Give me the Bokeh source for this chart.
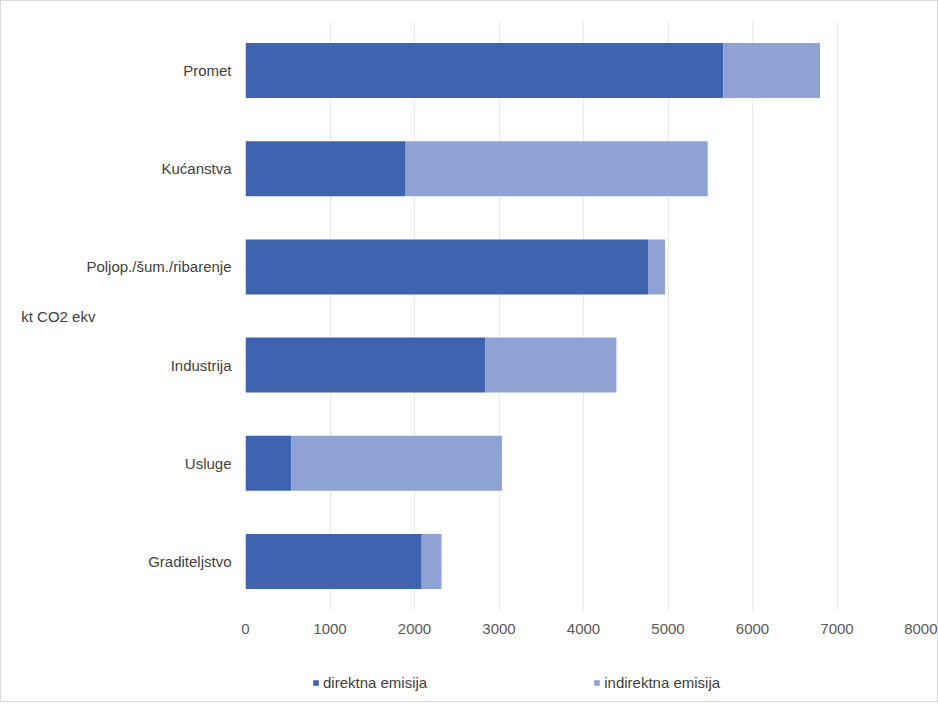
from bokeh.plotting import figure
from bokeh.layouts import column
from bokeh.models import (ColumnDataSource, FactorRange, Range1d, SingleIntervalTicker,
                          Legend, LegendItem)
from bokeh.embed import file_html
from bokeh.resources import INLINE

# ---- data (kt CO2 ekv) ----
categories = ["Promet", "Kućanstva", "Poljop./šum./ribarenje", "Industrija", "Usluge", "Graditeljstvo"]
direktna = [5655, 1895, 4770, 2840, 540, 2085]
indirektna = [1145, 3575, 195, 1550, 2495, 235]
series_names = ["direktna emisija", "indirektna emisija"]
unit_label = "kt CO2 ekv"

FONT = "Liberation Sans"
C_DIR = "#3F63AE"
C_IND = "#8FA2D4"

source = ColumnDataSource(dict(cat=categories, direktna=direktna, indirektna=indirektna))

p = figure(
    width=936, height=650,
    y_range=FactorRange(factors=list(reversed(categories))),
    x_range=Range1d(0, 8000),
    output_backend="svg", toolbar_location=None,
    min_border_left=244, min_border_top=20, min_border_right=16, min_border_bottom=41,
)
p.outline_line_color = None

rs = p.hbar_stack(["direktna", "indirektna"], y="cat", height=0.56, color=[C_DIR, C_IND],
                  source=source, line_color=None)

# axes
p.xaxis.ticker = SingleIntervalTicker(interval=1000)
p.xaxis.axis_line_color = None
p.xaxis.major_tick_line_color = None
p.xaxis.major_tick_out = 0
p.xaxis.minor_tick_line_color = None
p.xaxis.major_label_standoff = 9
p.xaxis.major_label_text_font = FONT
p.xaxis.major_label_text_font_size = "15px"
p.xaxis.major_label_text_color = "#595959"

p.yaxis.axis_line_color = None
p.yaxis.major_tick_line_color = None
p.yaxis.major_tick_out = 0
p.yaxis.minor_tick_line_color = None
p.yaxis.major_label_standoff = 14
p.yaxis.major_label_text_font = FONT
p.yaxis.major_label_text_font_size = "15px"
p.yaxis.major_label_text_color = "#404040"
p.yaxis.axis_label = unit_label
p.yaxis.axis_label_orientation = "horizontal"
p.yaxis.axis_label_standoff = -12
p.yaxis.axis_label_text_font = FONT
p.yaxis.axis_label_text_font_size = "15px"
p.yaxis.axis_label_text_font_style = "normal"
p.yaxis.axis_label_text_color = "#404040"

p.ygrid.grid_line_color = None
p.xgrid.grid_line_color = "#e9e9e9"

# legend strip below the chart (its frame is aligned with the chart's frame)
pl = figure(width=936, height=50, output_backend="svg", toolbar_location=None,
            x_axis_type=None, y_axis_type=None, min_border=0,
            x_range=Range1d(0, 1), y_range=Range1d(0, 1))
pl.outline_line_color = None
pl.xgrid.grid_line_color = None
pl.ygrid.grid_line_color = None
# legend swatch renderers, kept entirely outside the visible ranges
r1 = pl.hbar(y=[5], left=[5], right=[6], height=0.5, color=C_DIR, line_color=None)
r2 = pl.hbar(y=[5], left=[5], right=[6], height=0.5, color=C_IND, line_color=None)
legend = Legend(items=[LegendItem(label=series_names[0], renderers=[r1]),
                       LegendItem(label=series_names[1], renderers=[r2])],
                location=(67, 10), orientation="horizontal",
                glyph_width=7, glyph_height=7, label_standoff=4, spacing=166,
                label_height=16, padding=0, margin=0,
                border_line_color=None, background_fill_alpha=0,
                label_text_font=FONT, label_text_font_size="15px", label_text_color="#404040")
pl.add_layout(legend, "center")

layout = column(p, pl, spacing=0, styles={"border": "1px solid #d9d9d9"})

open("out.html", "w").write(file_html(layout, INLINE))
